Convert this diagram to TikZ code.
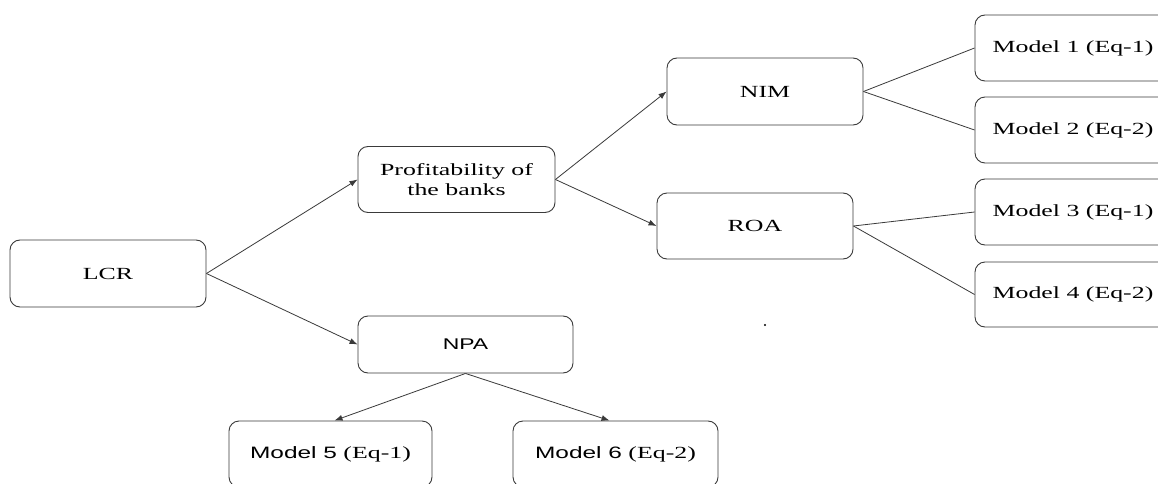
\documentclass[tikz,border=0pt]{standalone}
\usepackage{fontspec}
\setmainfont{Liberation Serif}[FakeStretch=1.52]
\newfontfamily\sansf{Liberation Sans}[FakeStretch=1.48]
\usetikzlibrary{arrows.meta}
\definecolor{linec}{HTML}{3A3A3A}
\tikzset{
  box/.style={draw=linec, line width=0.9pt, rounded corners=10pt, inner sep=0pt, align=center,
    font=\fontsize{17}{19.5}\selectfont, text=black},
  link/.style={draw=linec, line width=0.8pt},
  arr/.style={link, -{Latex[length=8pt,width=6pt]}},
  sans/.style={font=\sansf\fontsize{15.5}{19}\selectfont}
}
\begin{document}
\begin{tikzpicture}[x=1pt,y=-1pt]
\useasboundingbox (0,0) rectangle (1158,484);
\clip (0,0) rectangle (1158,484);
\fill[white] (0,0) rectangle (1158,484);

\node[box, minimum width=196pt, minimum height=67pt] (lcr) at (108,273.5) {LCR};
\node[box, minimum width=197pt, minimum height=66pt] (prof) at (456.5,179.5) {Profitability of\\the banks};
\node[box, minimum width=196pt, minimum height=67pt] (nim) at (765,91.5) {NIM};
\node[box, minimum width=196pt, minimum height=66pt] (roa) at (755,226) {ROA};
\node[box, minimum width=196pt, minimum height=66pt] (m1) at (1073,48) {Model 1 (Eq-1)};
\node[box, minimum width=196pt, minimum height=66pt] (m2) at (1073,130) {Model 2 (Eq-2)};
\node[box, minimum width=196pt, minimum height=66pt] (m3) at (1073,212) {Model 3 (Eq-1)};
\node[box, minimum width=196pt, minimum height=65pt] (m4) at (1073,294.5) {Model 4 (Eq-2)};
\node[box, sans, minimum width=215pt, minimum height=57pt] (npa) at (465.5,344.5) {NPA};
\node[box, minimum width=203pt, minimum height=66pt] (m5) at (330.5,454) {{\sansf\fontsize{16.5}{19}\selectfont Model 5} (Eq-1)};
\node[box, minimum width=205pt, minimum height=66pt] (m6) at (615.5,454) {{\sansf\fontsize{16.5}{19}\selectfont Model 6} (Eq-2)};

\draw[arr] (lcr.east) -- (prof.west);
\draw[arr] (lcr.east) -- (npa.west);
\draw[arr] (prof.east) -- (nim.west);
\draw[arr] (prof.east) -- (roa.west);
\draw[link] (nim.east) -- (m1.west);
\draw[link] (nim.east) -- (m2.west);
\draw[link] (roa.east) -- (m3.west);
\draw[link] (roa.east) -- (m4.west);
\draw[arr] (npa.south) -- ([xshift=4pt]m5.north);
\draw[arr] (npa.south) -- ([xshift=-6pt]m6.north);

\fill[black] (765,325) circle (1.2);
\end{tikzpicture}
\end{document}
